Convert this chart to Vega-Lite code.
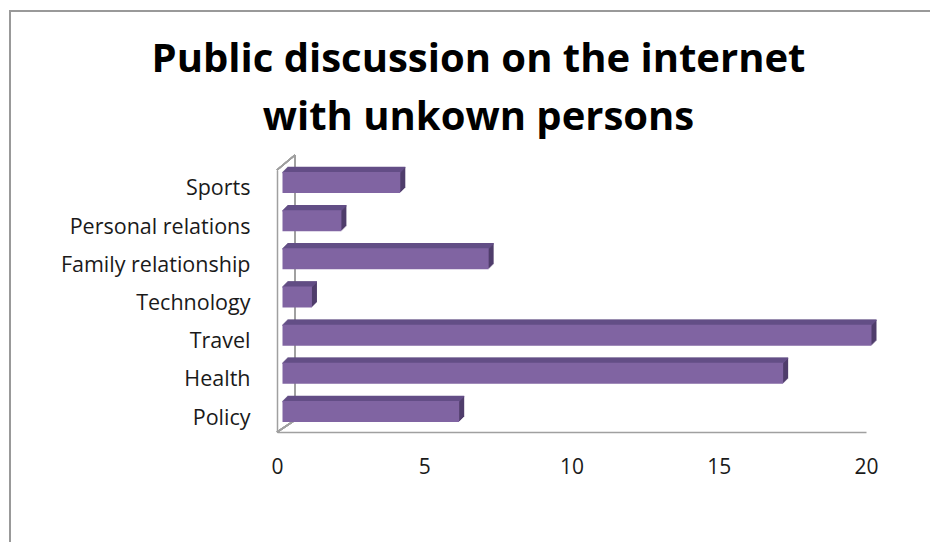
{
  "$schema": "https://vega.github.io/schema/vega-lite/v6.json",
  "autosize": "none",
  "width": 589,
  "height": 262,
  "padding": {"left": 277, "top": 170, "right": 64, "bottom": 110},
  "background": "white",
  "config": {"view": {"stroke": null}, "font": "Open Sans"},
  "title": {
    "text": ["Public discussion on the internet", "with unkown persons"],
    "font": "Open Sans",
    "fontSize": 40,
    "fontWeight": "bold",
    "color": "#000000",
    "lineHeight": 58,
    "anchor": "middle",
    "frame": "group",
    "baseline": "alphabetic",
    "dx": -93,
    "offset": -161
  },
  "data": {
    "values": [
      {"topic": "Sports", "count": 4},
      {"topic": "Personal relations", "count": 2},
      {"topic": "Family relationship", "count": 7},
      {"topic": "Technology", "count": 1},
      {"topic": "Travel", "count": 20},
      {"topic": "Health", "count": 17},
      {"topic": "Policy", "count": 6}
    ]
  },
  "encoding": {
    "y": {
      "field": "topic",
      "type": "nominal",
      "sort": null,
      "scale": {
        "domain": ["Sports", "Personal relations", "Family relationship", "Technology", "Travel", "Health", "Policy"],
        "paddingInner": 0.45,
        "paddingOuter": 0.157
      },
      "axis": {
        "title": null,
        "ticks": false,
        "tickSize": 0,
        "labelLimit": 400,
        "labelOffset": 3,
        "labelFont": "Open Sans",
        "labelFontSize": 21.5,
        "labelColor": "#1a1a1a",
        "labelPadding": 27,
        "domainColor": "#a0a0a0",
        "domainWidth": 1.5
      }
    },
    "x": {
      "field": "count",
      "type": "quantitative",
      "scale": {"domain": [0, 20], "nice": false, "zero": true},
      "axis": {
        "title": null,
        "values": [0, 5, 10, 15, 20],
        "ticks": false,
        "tickSize": 0,
        "grid": false,
        "labelFlush": false,
        "labelFont": "Open Sans",
        "labelFontSize": 21,
        "labelColor": "#1a1a1a",
        "labelPadding": 24,
        "domainColor": "#a0a0a0",
        "domainWidth": 1.5
      }
    }
  },
  "layer": [
    {"mark": {"type": "rule", "stroke": "#a0a0a0", "strokeWidth": 1.5, "xOffset": 18, "yOffset": -31.5, "y2Offset": 4.5},
     "encoding": {"x": {"datum": 0}, "y": {"datum": "Sports"}, "y2": {"datum": "Policy"}}},
    {"mark": {"type": "rule", "stroke": "#a0a0a0", "strokeWidth": 1.5, "xOffset": 0, "x2Offset": 18, "yOffset": -16.5, "y2Offset": -31.5},
     "encoding": {"x": {"datum": 0}, "x2": {"datum": 0}, "y": {"datum": "Sports"}, "y2": {"datum": "Sports"}}},
    {"mark": {"type": "rule", "stroke": "#a0a0a0", "strokeWidth": 1.5, "xOffset": 0, "x2Offset": 18, "yOffset": 16.5, "y2Offset": 4.5},
     "encoding": {"x": {"datum": 0}, "x2": {"datum": 0}, "y": {"datum": "Policy"}, "y2": {"datum": "Policy"}}},
    {"mark": {"type": "rule", "stroke": "#999999", "strokeWidth": 2, "xOffset": -267.5, "x2Offset": 64, "yOffset": -175.5, "y2Offset": -175.5},
     "encoding": {"x": {"datum": 0}, "x2": {"datum": 20}, "y": {"datum": "Sports"}, "y2": {"datum": "Sports"}}},
    {"mark": {"type": "rule", "stroke": "#999999", "strokeWidth": 2, "xOffset": -267, "x2Offset": -267, "yOffset": -176.5, "y2Offset": 127},
     "encoding": {"x": {"datum": 0}, "x2": {"datum": 0}, "y": {"datum": "Sports"}, "y2": {"datum": "Policy"}}},
    {"mark": {"type": "bar", "color": "#4f3d6b", "xOffset": 6.5, "x2Offset": 6.5, "yOffset": -5, "y2Offset": -5}},
    {"mark": {"type": "bar", "color": "#4f3d6b", "xOffset": 7.5, "x2Offset": 7.5, "yOffset": -6, "y2Offset": -6}},
    {"mark": {"type": "bar", "color": "#4f3d6b", "xOffset": 8.5, "x2Offset": 8.5, "yOffset": -7, "y2Offset": -7}},
    {"mark": {"type": "bar", "color": "#4f3d6b", "xOffset": 9.5, "x2Offset": 9.5, "yOffset": -8, "y2Offset": -8}},
    {"mark": {"type": "bar", "color": "#4f3d6b", "xOffset": 10.5, "x2Offset": 10.5, "yOffset": -9, "y2Offset": -9}},
    {"mark": {"type": "bar", "color": "#634e86", "height": 1.5, "xOffset": 5.5, "x2Offset": 5.5, "yOffset": -14, "y2Offset": -14}},
    {"mark": {"type": "bar", "color": "#634e86", "height": 1.5, "xOffset": 6.5, "x2Offset": 6.5, "yOffset": -15, "y2Offset": -15}},
    {"mark": {"type": "bar", "color": "#634e86", "height": 1.5, "xOffset": 7.5, "x2Offset": 7.5, "yOffset": -16, "y2Offset": -16}},
    {"mark": {"type": "bar", "color": "#634e86", "height": 1.5, "xOffset": 8.5, "x2Offset": 8.5, "yOffset": -17, "y2Offset": -17}},
    {"mark": {"type": "bar", "color": "#634e86", "height": 1.5, "xOffset": 9.5, "x2Offset": 9.5, "yOffset": -18, "y2Offset": -18}},
    {"mark": {"type": "bar", "color": "#634e86", "height": 1.5, "xOffset": 10.5, "x2Offset": 10.5, "yOffset": -19, "y2Offset": -19}},
    {"mark": {"type": "bar", "color": "#8064a2", "xOffset": 5.5, "x2Offset": 5.5, "yOffset": -4, "y2Offset": -4}}
  ]
}
